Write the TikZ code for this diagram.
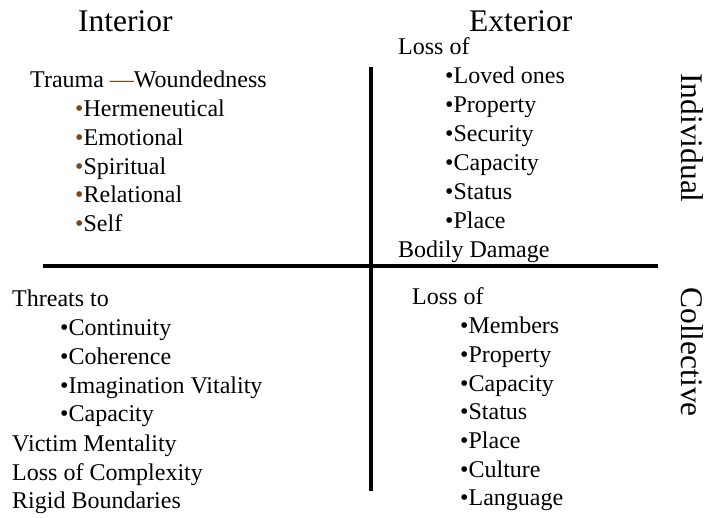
\documentclass[tikz,border=0pt]{standalone}
\usepackage{fontspec}
\setmainfont{Liberation Serif}
\definecolor{wound}{RGB}{122,70,28}

\begin{document}
\begin{tikzpicture}
  [x=1pt,y=-1pt,
   every node/.style={anchor=base west,inner sep=0pt,font=\fontsize{24}{28}\selectfont},
   heading/.style={font=\fontsize{31.5}{36}\selectfont},
   side/.style={font=\fontsize{31.5}{36}\selectfont,text height=0.69em,rotate=-90,anchor=base}]
  \useasboundingbox (0,0) rectangle (706,518);

  % headings
  \node[heading] (int) at (78,32) {Interior};
  \node[heading] (ext) at (469,32) {Exterior};
  \node[side] (ind) at (681,138) {Individual};
  \node[side] (col) at (681,352) {Collective};

  % interior, individual
  \node (trauma) at (30,88) {Trauma {\color{wound}—}Woundedness};
  \foreach \word [count=\i] in {Hermeneutical,Emotional,Spiritual,Relational,Self}
    \node (w\i) at (75,{88+28.7*\i}) {{\color{wound}•}\word};

  % exterior, individual
  \node (lossA) at (398,55) {Loss of};
  \foreach \word [count=\i] in {Loved ones,Property,Security,Capacity,Status,Place}
    \node (a\i) at (445,{55+28.9*\i}) {•\word};
  \node (bodily) at (398,258) {Bodily Damage};

  % interior, collective
  \node (threats) at (12,307) {Threats to};
  \foreach \word [count=\i] in {Continuity,Coherence,Imagination Vitality,Capacity}
    \node (t\i) at (60,{307+28.7*\i}) {•\word};
  \node (victim) at (12,451) {Victim Mentality};
  \node (complex) at (12,480) {Loss of Complexity};
  \node (rigid) at (12,508) {Rigid Boundaries};

  % exterior, collective
  \node (lossB) at (412,305) {Loss of};
  \foreach \word [count=\i] in {Members,Property,Capacity,Status,Place,Culture,Language}
    \node (b\i) at (460,{305+28.7*\i}) {•\word};

  % the cross
  \coordinate (vtop) at (371,67);
  \coordinate (vbot) at (371,491);
  \coordinate (hleft) at (43,266);
  \coordinate (hright) at (658,266);
  \draw [line width=3.5pt] (vtop) -- (vbot);
  \draw [line width=3.5pt] (hleft) -- (hright);

\end{tikzpicture}
\end{document}
